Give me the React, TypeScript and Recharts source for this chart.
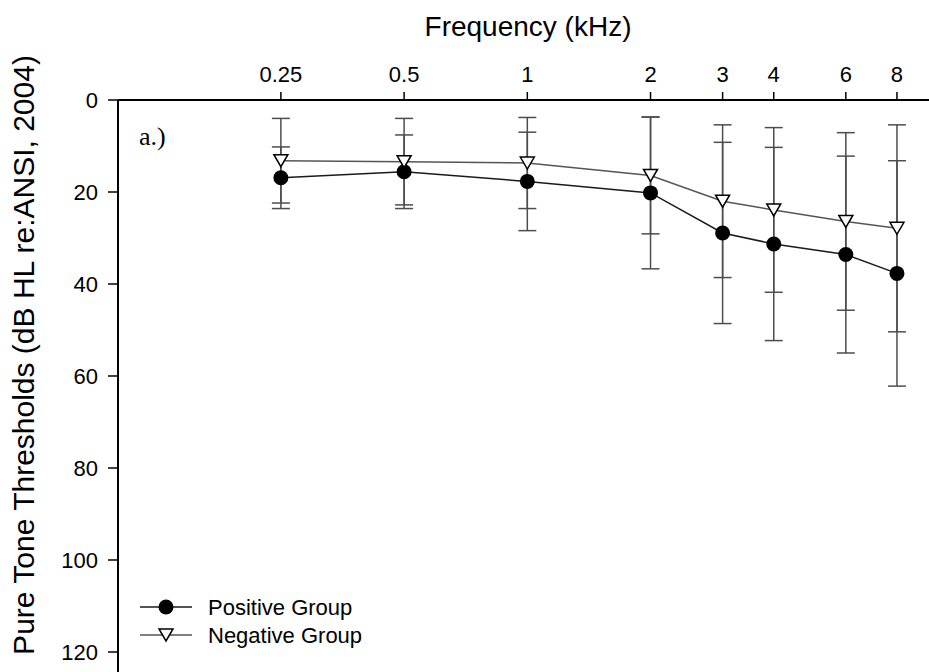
import { ComposedChart, ErrorBar, Legend, Line, XAxis, YAxis } from "recharts";

const FREQUENCIES = [0.25, 0.5, 1, 2, 3, 4, 6, 8];
const POSITIVE_MEAN = [16.9, 15.6, 17.7, 20.2, 28.9, 31.3, 33.6, 37.7];
const POSITIVE_SD = [6.7, 8.0, 10.7, 16.5, 19.7, 21.0, 21.4, 24.5];
const NEGATIVE_MEAN = [13.2, 13.4, 13.7, 16.4, 22.0, 23.9, 26.4, 27.9];
const NEGATIVE_SD = [9.2, 9.4, 9.9, 12.7, 16.6, 17.9, 19.3, 22.5];
const Y_TICKS = [0, 20, 40, 60, 80, 100, 120];
const SERIES_NAMES = ["Positive Group", "Negative Group"];

const SANS = '"Liberation Sans", Arial, sans-serif';
const SERIF = '"Liberation Serif", "Times New Roman", serif';

const data = FREQUENCIES.map((f, i) => ({
  f,
  pos: POSITIVE_MEAN[i],
  posSd: POSITIVE_SD[i],
  neg: NEGATIVE_MEAN[i],
  negSd: NEGATIVE_SD[i],
}));

function CircleDot(props: any) {
  const { cx, cy, index } = props;
  if (cx == null || cy == null) return null;
  return <circle key={`c-${index}`} cx={cx} cy={cy} r={7.5} fill="#000" />;
}

function TriangleDot(props: any) {
  const { cx, cy, index } = props;
  if (cx == null || cy == null) return null;
  const pts = `${cx - 7},${cy - 6} ${cx + 7},${cy - 6} ${cx},${cy + 6}`;
  return (
    <polygon
      key={`t-${index}`}
      points={pts}
      fill="#fff"
      stroke="#000"
      strokeWidth={1.5}
    />
  );
}

function LegendContent() {
  return (
    <svg width={260} height={60}>
      {SERIES_NAMES.map((name, i) => {
        const y = 15 + i * 28;
        return (
          <g key={name}>
            <line
              x1={2}
              x2={54}
              y1={y}
              y2={y}
              stroke={i === 0 ? "#1a1a1a" : "#555"}
              strokeWidth={1.5}
            />
            {i === 0 ? (
              <circle cx={28} cy={y} r={7.5} fill="#000" />
            ) : (
              <polygon
                points={`${21},${y - 6} ${35},${y - 6} ${28},${y + 6}`}
                fill="#fff"
                stroke="#000"
                strokeWidth={1.5}
              />
            )}
            <text
              x={70}
              y={y}
              dy="0.36em"
              fontSize={22}
              fontFamily={SANS}
              fill="#000"
            >
              {name}
            </text>
          </g>
        );
      })}
    </svg>
  );
}

export default function App() {
  return (
    <div style={{ position: "absolute", left: 0, top: 0, width: 929, height: 672 }}>
      <ComposedChart
        width={929}
        height={672}
        data={data}
        margin={{ top: 70, right: 0, bottom: 0, left: 0 }}
      >
        <XAxis
          dataKey="f"
          type="number"
          scale="log"
          orientation="top"
          domain={[0.1, 9.58]}
          ticks={FREQUENCIES}
          allowDataOverflow
          height={30}
          tickSize={8}
          tickMargin={10}
          axisLine={{ stroke: "#000", strokeWidth: 2 }}
          tickLine={{ stroke: "#000", strokeWidth: 1.5 }}
          tick={{ fontSize: 22, fill: "#000", fontFamily: SANS }}
          tickFormatter={(v) => String(v)}
        />
        <YAxis
          type="number"
          reversed
          domain={[0, 124.35]}
          ticks={Y_TICKS}
          allowDataOverflow
          width={118}
          tickSize={10}
          tickMargin={10}
          axisLine={{ stroke: "#000", strokeWidth: 2 }}
          tickLine={{ stroke: "#000", strokeWidth: 1.5 }}
          tick={{ fontSize: 22, fill: "#000", fontFamily: SANS }}
        />
        <Line
          dataKey="pos"
          name={SERIES_NAMES[0]}
          stroke="#1a1a1a"
          strokeWidth={1.5}
          dot={CircleDot}
          activeDot={false}
          isAnimationActive={false}
        />
        <Line
          dataKey="neg"
          name={SERIES_NAMES[1]}
          stroke="#555"
          strokeWidth={1.5}
          dot={TriangleDot}
          activeDot={false}
          isAnimationActive={false}
        />
        <Line
          dataKey="pos"
          stroke="none"
          dot={false}
          activeDot={false}
          legendType="none"
          isAnimationActive={false}
        >
          <ErrorBar dataKey="posSd" direction="y" width={9} stroke="#4d4d4d" strokeWidth={1.5} />
        </Line>
        <Line
          dataKey="neg"
          stroke="none"
          dot={false}
          activeDot={false}
          legendType="none"
          isAnimationActive={false}
        >
          <ErrorBar dataKey="negSd" direction="y" width={9} stroke="#4d4d4d" strokeWidth={1.5} />
        </Line>
        <Legend
          layout="horizontal"
          verticalAlign="middle"
          align="center"
          content={<LegendContent />}
          wrapperStyle={{ left: 138, top: 592, width: 260, height: 60 }}
        />
      </ComposedChart>
      <svg
        width={929}
        height={672}
        style={{ position: "absolute", left: 0, top: 0, pointerEvents: "none" }}
      >
        <text x={528} y={36} textAnchor="middle" fontSize={28} fontFamily={SANS} fill="#000">
          Frequency (kHz)
        </text>
        <text
          x={34}
          y={355}
          textAnchor="middle"
          fontSize={30}
          fontFamily={SANS}
          fill="#000"
          transform="rotate(-90 34 355)"
        >
          Pure Tone Thresholds (dB HL re:ANSI, 2004)
        </text>
        <text x={139} y={145} fontSize={26} fontFamily={SERIF} fill="#000">
          a.)
        </text>
      </svg>
    </div>
  );
}
